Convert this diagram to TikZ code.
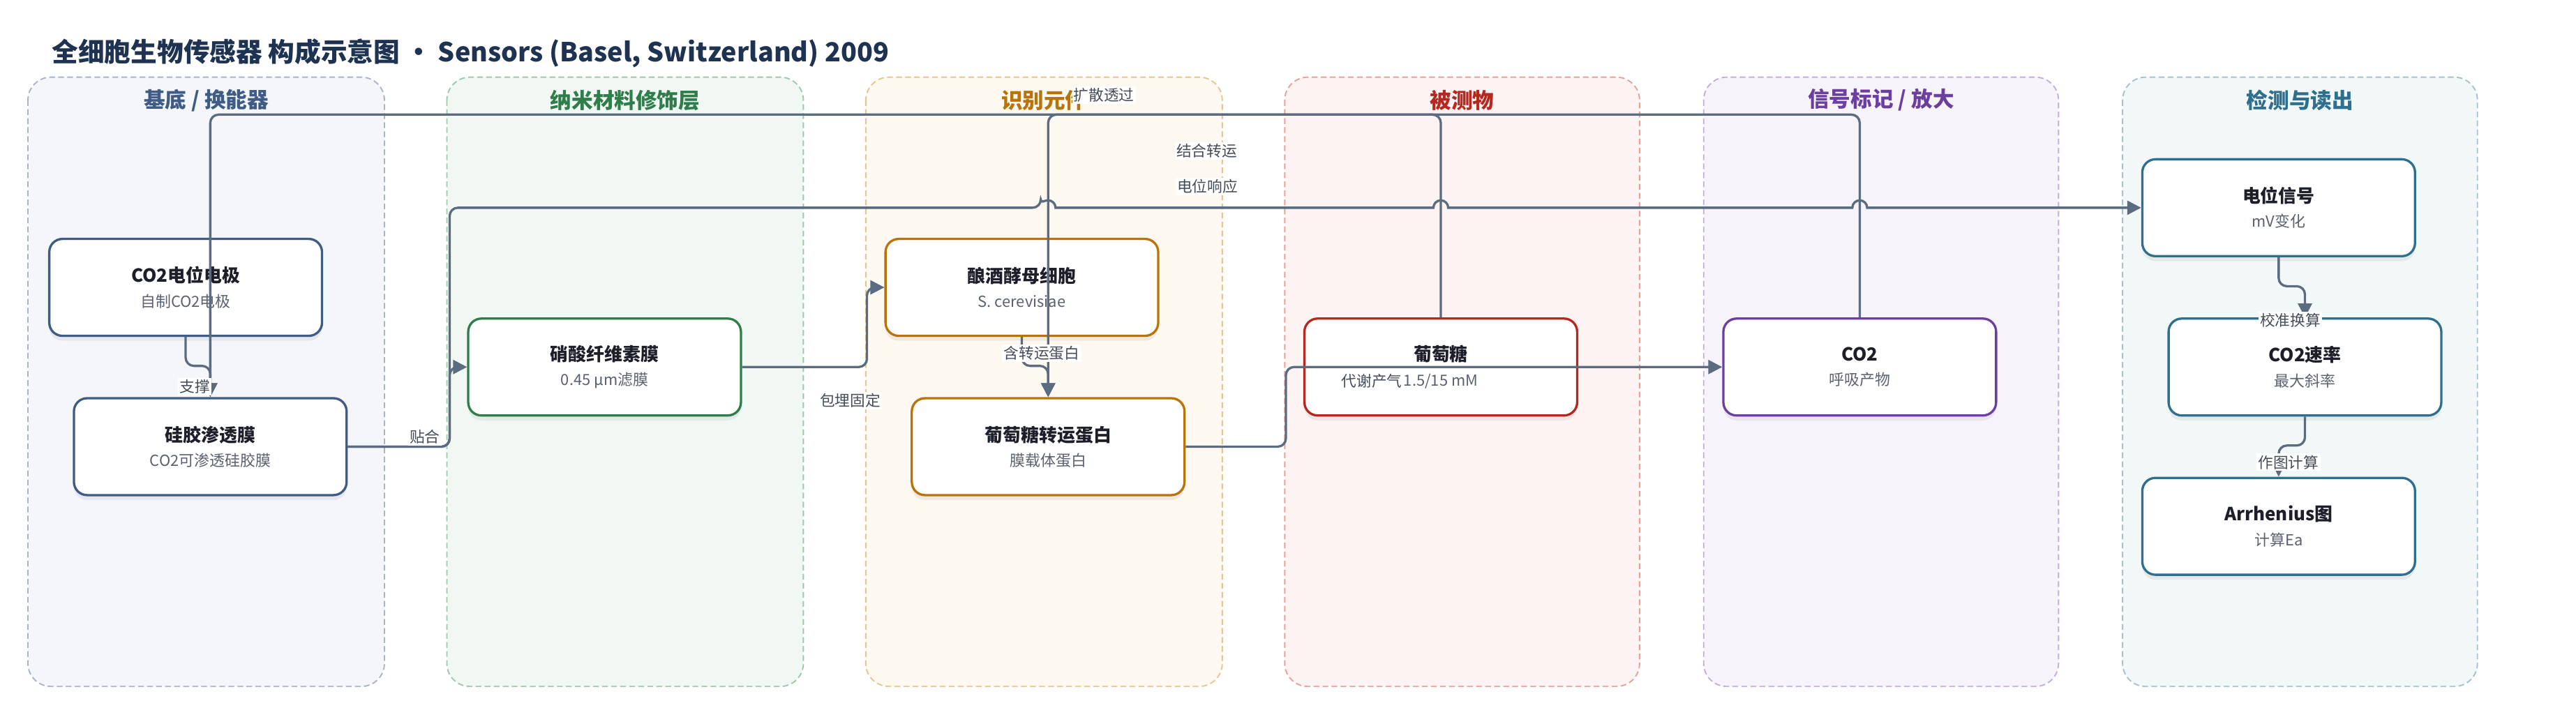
\documentclass[tikz,border=0pt]{standalone}
\usepackage{fontspec}
\setmainfont{Noto Sans CJK SC}
\usetikzlibrary{arrows.meta,calc,shadows}

\definecolor{titleblue}{HTML}{1E3352}
\definecolor{edgegray}{HTML}{5B6B80}
\definecolor{subgray}{HTML}{5A6270}
\definecolor{labelgray}{HTML}{454D5A}
\definecolor{nodeink}{HTML}{1C1E2A}
\definecolor{baseC}{HTML}{3E5C85}
\definecolor{baseF}{HTML}{F4F6FA}
\definecolor{baseL}{HTML}{A8B5C8}
\definecolor{nanoC}{HTML}{2E7D4A}
\definecolor{nanoF}{HTML}{F1F8F3}
\definecolor{nanoL}{HTML}{9DC9AB}
\definecolor{recogC}{HTML}{B8740A}
\definecolor{recogF}{HTML}{FDF8F0}
\definecolor{recogL}{HTML}{E6C58F}
\definecolor{analyteC}{HTML}{B5281F}
\definecolor{analyteF}{HTML}{FDF3F2}
\definecolor{analyteL}{HTML}{E6A19B}
\definecolor{signalC}{HTML}{6B3FA0}
\definecolor{signalF}{HTML}{F6F3FA}
\definecolor{signalL}{HTML}{C4AEDF}
\definecolor{readC}{HTML}{2E6E8E}
\definecolor{readF}{HTML}{F2F7F8}
\definecolor{readL}{HTML}{A4C3CF}

\newcommand{\blocktext}[2]{{\fontsize{11}{14}\selectfont\bfseries\color{nodeink}#1}\\[1pt]{\fontsize{9.3}{12}\selectfont\color{subgray}#2}}

\begin{document}
\begin{tikzpicture}[x=1pt,y=-1pt]

    \tikzset{
      lane/.style={
        dash pattern=on 3.5pt off 2pt,
        line width=0.8pt,
        rounded corners=14pt,
      },
      lanehead/.style={
        font=\fontsize{13}{15}\selectfont\bfseries,
      },
      block/.style={
        line width=1.4pt,
        fill=white,
        rounded corners=8pt,
        minimum width=166pt,
        minimum height=59pt,
        inner sep=0pt,
        align=center,
        font=\fontsize{11}{14}\selectfont,
        drop shadow={shadow xshift=0pt, shadow yshift=-3pt, opacity=0.12},
      },
      link/.style={
        draw=edgegray,
        line width=1.4pt,
        rounded corners=5pt,
        -{Triangle[length=8.5pt,width=8.5pt]},
      },
      tag/.style={
        fill=white,
        inner sep=1pt,
        text=labelgray,
        font=\fontsize{9.2}{11}\selectfont,
      },
    }
    \useasboundingbox (0,0) rectangle (1568,428);

    \node[anchor=west, inner sep=0pt, text=titleblue, font=\fontsize{16}{19}\selectfont\bfseries] (title) at (31.5,32.5) {全细胞生物传感器 构成示意图 · Sensors (Basel, Switzerland) 2009};

	\draw[lane, draw=baseL, fill=baseF] (17,47) rectangle (234,418);
	\draw[lane, draw=nanoL, fill=nanoF] (272,47) rectangle (489,418);
	\draw[lane, draw=recogL, fill=recogF] (527,47) rectangle (744,418);
	\draw[lane, draw=analyteL, fill=analyteF] (782,47) rectangle (998,418);
	\draw[lane, draw=signalL, fill=signalF] (1037,47) rectangle (1253,418);
	\draw[lane, draw=readL, fill=readF] (1292,47) rectangle (1508,418);

	\node[lanehead, text=baseC] (hbase) at (125.5,61) {基底 / 换能器};
	\node[lanehead, text=nanoC] (hnano) at (380.5,61) {纳米材料修饰层};
	\node[lanehead, text=recogC] (hrecog) at (635.5,61) {识别元件};
	\node[lanehead, text=analyteC] (hanalyte) at (890,61) {被测物};
	\node[lanehead, text=signalC] (hsignal) at (1145,61) {信号标记 / 放大};
	\node[lanehead, text=readC] (hread) at (1400,61) {检测与读出};

	\node[block, draw=baseC] (elec) at (113,175) {\blocktext{CO2电位电极}{自制CO2电极}};
	\node[block, draw=baseC] (sil) at (128,272) {\blocktext{硅胶渗透膜}{CO2可渗透硅胶膜}};
	\node[block, draw=nanoC] (nitro) at (368,223.5) {\blocktext{硝酸纤维素膜}{0.45 μm滤膜}};
	\node[block, draw=recogC] (yeast) at (622,175) {\blocktext{酿酒酵母细胞}{S. cerevisiae}};
	\node[block, draw=recogC] (trans) at (638,272) {\blocktext{葡萄糖转运蛋白}{膜载体蛋白}};
	\node[block, draw=analyteC] (gluc) at (877,223.5) {\blocktext{葡萄糖}{1.5/15 mM}};
	\node[block, draw=signalC] (co2) at (1132,223.5) {\blocktext{CO2}{呼吸产物}};
	\node[block, draw=readC] (volt) at (1387,126.5) {\blocktext{电位信号}{mV变化}};
	\node[block, draw=readC] (rate) at (1403,223.5) {\blocktext{CO2速率}{最大斜率}};
	\node[block, draw=readC] (arr) at (1387,320.5) {\blocktext{Arrhenius图}{计算Ea}};

	\draw[link] (elec.south) |- ($(sil.north)+(0,-19)$) -- (sil.north);
	\draw[link] (sil.east) -- ++(62,0) |- (nitro.west);
	\draw[link] (nitro.east) -- ++(76,0) |- (yeast.west);
	\draw[link] (yeast.south) |- ($(trans.north)+(0,-19)$) -- (trans.north);
	\draw[link] (gluc.north) |- ($(trans.north)+(0,-172)$) -- (trans.north);
	\draw[link] (co2.north) |- ($(sil.north)+(0,-172)$) -- (sil.north);
	\draw[link] (trans.east) -- ++(61,0) |- (co2.west);
	\draw[link] (volt.south) |- ($(rate.north)+(0,-19)$) -- (rate.north);
	\draw[link] (rate.south) |- ($(arr.north)+(0,-19)$) -- (arr.north);
	\draw[link] (sil.east) -- ++(62,0) |- ($(trans.north |- volt.west)+(-4.5,0)$)
	  [sharp corners] arc[start angle=180, end angle=0, radius=4.5pt]
	  -- ($(gluc.north |- volt.west)+(-4.5,0)$) arc[start angle=180, end angle=0, radius=4.5pt]
	  -- ($(co2.north |- volt.west)+(-4.5,0)$) arc[start angle=180, end angle=0, radius=4.5pt]
	  -- (volt.west);

	\node[tag] (lsupport) at (118.5,235.5) {支撑};
	\node[tag] (lattach) at (258.5,266) {贴合};
	\node[tag] (lembed) at (517.5,244) {包埋固定};
	\node[tag] (lcarrier) at (634,215) {含转运蛋白};
	\node[tag] (lbind) at (734.5,92) {结合转运};
	\node[tag] (ldiffuse) at (672,58) {扩散透过};
	\node[tag] (lmetab) at (835,232) {代谢产气};
	\node[tag] (lresponse) at (735,113.5) {电位响应};
	\node[tag] (lcalib) at (1394,195) {校准换算};
	\node[tag] (lplot) at (1393,281.5) {作图计算};

\end{tikzpicture}
\end{document}
